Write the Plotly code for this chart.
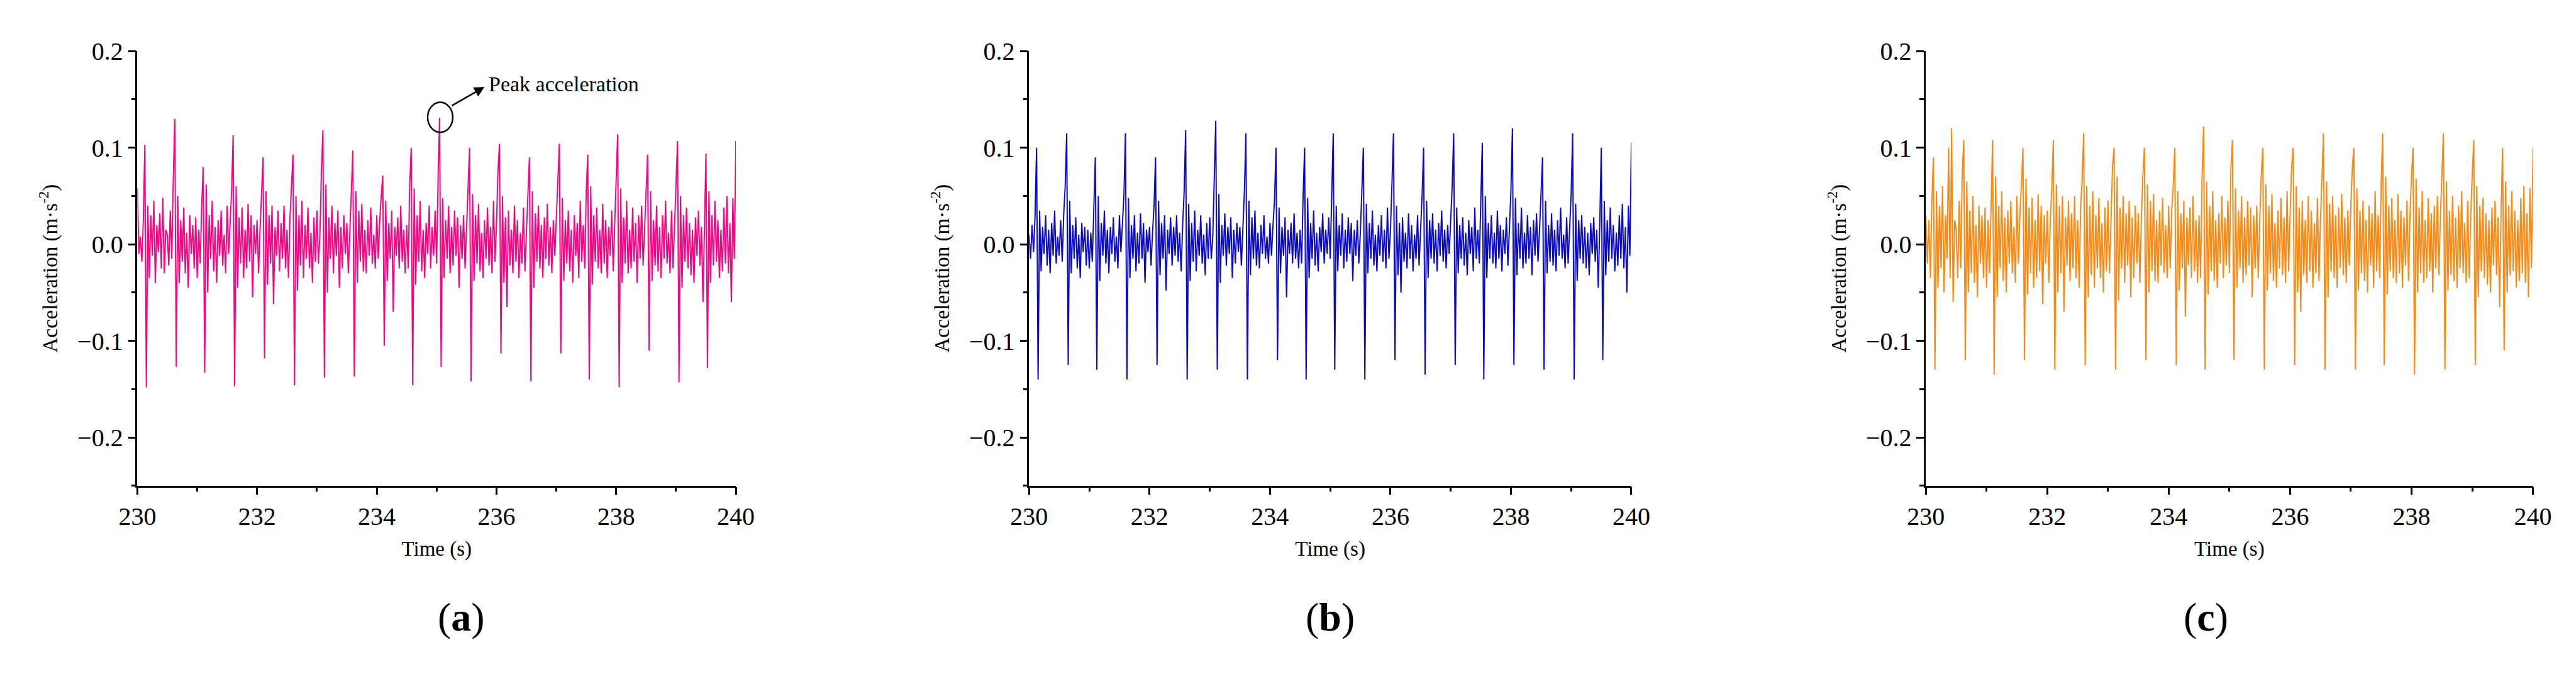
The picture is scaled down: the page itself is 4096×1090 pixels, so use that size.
import numpy as np
import plotly.graph_objects as go

# sampling times (s), 0.025 s step
time_s = np.linspace(230, 240, 401)

# accelerations in 1e-3 m/s^2
acc_a = [
    58, -10, 8, -18, 25, 103, -148, 40, -35, 30, -12, 45, -40, 20, -8, 32, -25, 48, -30, 15,
    10, -22, 35, -15, 68, 130, -127, 50, -40, 25, -18, 38, -30, 12, -45, 30, -10, 20, -25, 28,
    -35, 15, -20, 40, 80, -133, 62, -50, 30, -15, 45, -28, 18, -40, 25, -12, 35, -22, 10, -30,
    40, -10, 22, 55, 113, -147, 60, -45, 28, -20, 38, -35, 15, -25, 42, -18, 30, -55, 20, -10,
    25, -30, 15, 48, 90, -118, 55, -42, 30, -20, 40, -62, 18, -12, 35, -28, 22, -15, 40, -25,
    15, -35, 28, 60, 93, -146, 50, -48, 30, -22, 45, -35, 20, -15, 38, -25, 12, -40, 28, -18,
    35, -20, 10, 75, 118, -138, 62, -50, 28, -15, 40, -30, 22, -12, 35, -45, 18, -25, 30, -10,
    22, -30, 15, 65, 97, -137, 55, -40, 35, -18, 42, -28, 15, -30, 25, -12, 38, -20, 10, -25,
    30, -15, 25, 50, 71, -105, 45, -38, 22, -15, 35, -70, 18, -12, 28, -25, 40, -18, 15, -30,
    20, -25, 60, 100, -146, 58, -42, 30, -18, 45, -28, 15, -35, 22, -10, 40, -25, 18, -12, 35,
    -20, 70, 131, -127, 48, -35, 25, -15, 40, -30, 18, -22, 35, -12, 28, -45, 20, -15, 30, -25,
    15, 65, 100, -142, 52, -38, 30, -20, 42, -28, 12, -35, 25, -15, 38, -22, 18, -30, 45, -18,
    20, 75, 104, -113, 50, -40, 28, -65, 35, -22, 15, -30, 40, -18, 25, -35, 12, -20, 38, -28,
    15, 60, 90, -142, 55, -45, 32, -18, 40, -25, 20, -35, 28, -15, 42, -22, 18, -30, 25, -12,
    30, 72, 104, -113, 48, -38, 25, -20, 35, -28, 15, -40, 30, -12, 22, -35, 45, -18, 20, -25,
    55, 93, -140, 60, -42, 30, -18, 38, -25, 15, -30, 42, -20, 25, -35, 18, -12, 35, -28, 20,
    65, 114, -148, 58, -40, 28, -20, 45, -30, 15, -25, 38, -18, 22, -40, 30, -15, 40, -22, 18,
    60, 93, -110, 55, -38, 25, -22, 40, -28, 18, -35, 30, -15, 45, -20, 12, -30, 35, -25, 20,
    62, 107, -143, 50, -45, 30, -18, 38, -25, 22, -32, 15, -40, 28, -12, 35, -22, 18, -60, 25,
    94, -128, 55, -40, 30, -22, 45, -18, 25, -35, 15, -28, 38, -20, 50, -30, 22, -60, 48, -15,
    107,
]

acc_b = [
    10, -15, 20, -8, 30, 100, -140, 35, -28, 18, -10, 30, -22, 15, -30, 22, -12, 35, -20, 8,
    -12, 25, -18, 30, 60, 115, -125, 45, -30, 20, -15, 28, -25, 10, -35, 22, -8, 18, -22, 15,
    -25, 12, -18, 35, 90, -130, 50, -38, 22, -12, 35, -20, 15, -30, 18, -10, 28, -18, 8, -25,
    30, -8, 18, 50, 115, -140, 48, -35, 20, -15, 30, -28, 12, -20, 32, -15, 22, -40, 15, -8,
    18, -22, 12, 40, 90, -125, 45, -32, 22, -15, 30, -48, 15, -10, 28, -22, 18, -12, 30, -18,
    12, -28, 20, 55, 118, -140, 42, -38, 22, -18, 35, -28, 15, -12, 30, -20, 10, -32, 22, -15,
    28, -15, 8, 65, 128, -130, 52, -40, 20, -12, 32, -22, 18, -10, 28, -35, 15, -20, 22, -8,
    18, -22, 12, 55, 115, -140, 45, -32, 28, -15, 35, -22, 12, -25, 20, -10, 30, -15, 8, -20,
    22, -12, 20, 45, 100, -120, 38, -30, 18, -12, 28, -55, 15, -10, 22, -20, 32, -15, 12, -25,
    15, -20, 50, 100, -140, 48, -35, 22, -15, 35, -22, 12, -28, 18, -8, 32, -20, 15, -10, 28,
    -15, 60, 115, -130, 40, -28, 20, -12, 32, -25, 15, -18, 28, -10, 22, -38, 15, -12, 25, -20,
    12, 55, 100, -140, 42, -30, 22, -15, 35, -22, 10, -28, 20, -12, 30, -18, 15, -25, 38, -15,
    15, 62, 115, -120, 40, -32, 22, -50, 28, -18, 12, -25, 32, -15, 20, -28, 10, -15, 30, -22,
    12, 50, 100, -135, 45, -35, 25, -15, 32, -20, 15, -28, 22, -12, 35, -18, 15, -25, 20, -10,
    25, 60, 115, -125, 38, -30, 20, -15, 28, -22, 12, -32, 25, -10, 18, -28, 38, -15, 15, -20,
    45, 105, -140, 50, -35, 22, -15, 30, -20, 12, -25, 35, -15, 20, -28, 15, -10, 28, -22, 15,
    55, 120, -125, 48, -32, 22, -15, 38, -25, 12, -20, 30, -15, 18, -32, 25, -12, 32, -18, 15,
    50, 90, -130, 45, -30, 20, -18, 32, -22, 15, -28, 25, -12, 38, -15, 10, -25, 28, -20, 15,
    52, 115, -140, 42, -38, 25, -15, 30, -20, 18, -25, 12, -32, 22, -10, 28, -18, 15, -45, 20,
    100, -120, 45, -32, 25, -18, 38, -15, 20, -28, 12, -22, 30, -15, 42, -25, 18, -50, 40, -12,
    105,
]

acc_c = [
    30, -20, 25, -35, 45, 90, -130, 55, -45, 40, -25, 60, -50, 30, -15, 100, -35, 120, -60, 25,
    15, -35, 45, -25, 75, 108, -120, 65, -50, 35, -30, 50, -40, 20, -55, 40, -20, 30, -35, 38,
    -45, 25, -30, 50, 108, -135, 70, -55, 40, -25, 55, -38, 28, -50, 35, -20, 45, -30, 18, -40,
    50, -20, 32, 62, 100, -120, 68, -52, 38, -30, 48, -45, 25, -35, 52, -28, 40, -62, 30, -20,
    35, -40, 25, 58, 108, -130, 62, -50, 40, -30, 50, -70, 28, -22, 45, -38, 32, -25, 50, -35,
    25, -45, 38, 68, 115, -125, 60, -55, 40, -32, 55, -45, 30, -25, 48, -35, 22, -50, 38, -28,
    45, -30, 20, 80, 100, -130, 70, -58, 38, -25, 50, -40, 32, -22, 45, -55, 28, -35, 40, -20,
    32, -40, 25, 72, 100, -120, 62, -50, 45, -28, 52, -38, 25, -40, 35, -22, 48, -30, 20, -35,
    40, -25, 35, 60, 100, -125, 55, -48, 32, -25, 45, -75, 28, -22, 38, -35, 50, -28, 25, -40,
    30, -35, 70, 122, -130, 65, -52, 40, -28, 55, -38, 25, -45, 32, -20, 50, -35, 28, -22, 45,
    -30, 78, 108, -120, 58, -45, 35, -25, 50, -40, 28, -32, 45, -22, 38, -55, 30, -25, 40, -35,
    25, 72, 100, -130, 62, -48, 40, -30, 52, -38, 22, -45, 35, -25, 48, -32, 28, -40, 55, -28,
    30, 80, 100, -125, 60, -50, 38, -70, 45, -32, 25, -40, 50, -28, 35, -45, 22, -30, 48, -38,
    25, 68, 115, -130, 65, -55, 42, -28, 50, -35, 30, -45, 38, -25, 52, -32, 28, -40, 35, -22,
    40, 80, 100, -130, 58, -48, 35, -30, 45, -38, 25, -50, 40, -22, 32, -45, 55, -28, 30, -35,
    65, 115, -125, 70, -52, 40, -28, 48, -35, 25, -40, 52, -30, 35, -45, 28, -22, 45, -38, 30,
    72, 100, -135, 68, -50, 38, -30, 55, -40, 25, -35, 48, -28, 32, -50, 40, -25, 50, -32, 28,
    70, 115, -130, 65, -48, 35, -32, 50, -38, 28, -45, 40, -25, 55, -30, 22, -40, 45, -35, 30,
    72, 108, -125, 60, -55, 40, -28, 48, -35, 32, -42, 25, -50, 38, -22, 45, -32, 28, -65, 35,
    100, -110, 65, -50, 40, -32, 55, -28, 35, -45, 25, -38, 48, -30, 60, -40, 32, -55, 58, -25,
    100,
]

series = [acc_a, acc_b, acc_c]
colors = ["#FF0080", "#0A0AC8", "#FF870F"]
labels = ["a", "b", "c"]
x_domains = [[0.0447, 0.2805], [0.396, 0.6333], [0.7493, 0.9885]]

serif = "Liberation Serif, Times New Roman, serif"
fig = go.Figure()

for i, (acc, col) in enumerate(zip(series, colors)):
    n = "" if i == 0 else str(i + 1)
    fig.add_trace(go.Scatter(x=time_s, y=np.array(acc) / 1000.0, mode="lines",
                             line=dict(color=col, width=2), showlegend=False,
                             xaxis="x" + n, yaxis="y" + n))
    axis = dict(showline=True, linecolor="black", linewidth=2.5, ticks="outside",
                ticklen=12, tickwidth=2.5, tickcolor="black", showgrid=False,
                zeroline=False, tickfont=dict(family=serif, size=40, color="black"))
    fig.layout["xaxis" + n] = dict(axis, domain=x_domains[i], range=[230, 240], dtick=2,
                                   anchor="y" + n,
                                   minor=dict(dtick=1, ticklen=7, tickwidth=2.5, tickcolor="black", ticks="outside"),
                                   title=dict(text="Time (s)", font=dict(family=serif, size=33, color="black"), standoff=18))
    fig.layout["yaxis" + n] = dict(axis, domain=[0.3055, 0.952], range=[-0.25, 0.2], dtick=0.1,
                                   tickformat=".1f", anchor="x" + n,
                                   minor=dict(dtick=0.05, ticklen=7, tickwidth=2.5, tickcolor="black", ticks="outside"),
                                   title=dict(text="Acceleration (m·s<sup>-2</sup>)", font=dict(family=serif, size=33, color="black"), standoff=22))
    fig.add_annotation(xref="paper", yref="paper", x=sum(x_domains[i]) / 2, y=0.075,
                       text="(<b>" + labels[i] + "</b>)", showarrow=False,
                       font=dict(family=serif, size=64, color="black"))

# peak acceleration marker on panel (a)
fig.add_shape(type="circle", xref="x", yref="y", x0=234.85, x1=235.27, y0=0.116, y1=0.147,
              line=dict(color="black", width=2.5))
fig.add_annotation(xref="x", yref="y", ax=235.24, ay=0.143, axref="x", ayref="y",
                   x=235.8, y=0.163, showarrow=True, arrowhead=2, arrowsize=1.3,
                   arrowwidth=2.5, arrowcolor="black", text="")
fig.add_annotation(xref="x", yref="y", x=235.85, y=0.166, text="Peak acceleration",
                   showarrow=False, xanchor="left",
                   font=dict(family=serif, size=34, color="black"))

fig.update_layout(width=4096, height=1090, plot_bgcolor="white", paper_bgcolor="white",
                  margin=dict(l=0, r=0, t=0, b=0))
fig.write_html("out.html")
